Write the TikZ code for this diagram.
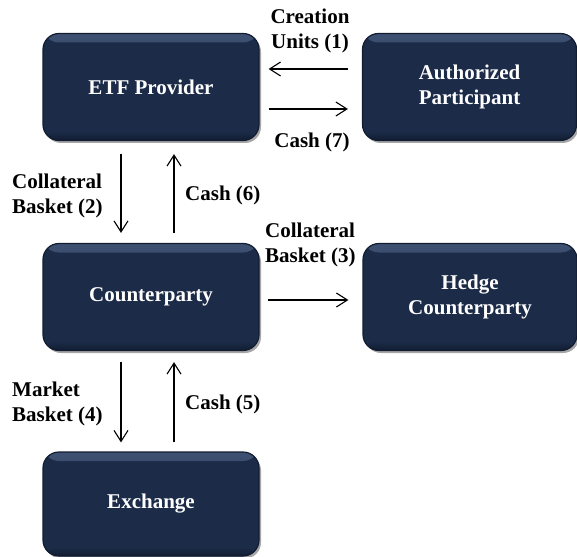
\documentclass[tikz,border=0pt]{standalone}
\usepackage{fontspec}
\setmainfont{Liberation Serif}
\usetikzlibrary{arrows.meta,shadows}
\definecolor{navy}{HTML}{1B2B48}
\definecolor{navyhi}{HTML}{3E5172}
\definecolor{navylo}{HTML}{111C31}
\tikzset{
  party/.style={
    rounded corners=16pt, minimum width=216pt, minimum height=107pt,
    inner sep=0pt, align=center, text=white,
    font=\fontsize{21}{25}\selectfont\bfseries,
    fill=navy, draw=navylo, line width=1.2pt,
    drop shadow={shadow xshift=2pt, shadow yshift=-2.5pt, opacity=0.35, fill=black},
    path picture={
      \shade[top color=navyhi, bottom color=navy]
        (path picture bounding box.north west) rectangle
        ([yshift=-9pt]path picture bounding box.north east);
      \shade[top color=navy, bottom color=navylo]
        ([yshift=9pt]path picture bounding box.south west) rectangle
        (path picture bounding box.south east);
    }
  },
  flow/.style={-{Straight Barb[length=11pt,width=14pt,line width=1.1pt]}, line width=1.1pt, black},
  tag/.style={font=\fontsize{21}{25}\selectfont\bfseries, inner sep=0pt},
  tagl/.style={tag, anchor=west, align=left},
  tagc/.style={tag, align=center}
}
\begin{document}
\begin{tikzpicture}[x=1pt, y=-1pt]
\useasboundingbox (0,0) rectangle (577,556);

% parties
\node[party] (etf)   at (151,87)    {ETF Provider};
\node[party, minimum width=214pt] (ap) at (469.5,87) {Authorized\\Participant};
\node[party] (cp)    at (151,297)   {Counterparty};
\node[party, minimum width=214pt] (hedge) at (470,297) {Hedge\\Counterparty};
\node[party, minimum height=104pt] (ex) at (151,504) {Exchange};

% ETF provider <-> authorized participant
\draw[flow, shorten <=14pt, shorten >=9pt] ([yshift=18pt]ap.west) -- ([yshift=18pt]etf.east);
\draw[flow, shorten <=9pt, shorten >=14pt] ([yshift=-22pt]etf.east) -- ([yshift=-22pt]ap.west);
\node[tagc] (l1) at (310,31) {Creation\\Units (1)};
\node[tagc] (l7) at (312,142) {Cash (7)};

% ETF provider <-> counterparty
\draw[flow, shorten <=13pt, shorten >=10pt] ([xshift=-30pt]etf.south) -- ([xshift=-30pt]cp.north);
\draw[flow, shorten <=10pt, shorten >=13pt] ([xshift=23pt]cp.north) -- ([xshift=23pt]etf.south);
\node[tagl] (l2) at (12,196) {Collateral\\Basket (2)};
\node[tagl] (l6) at (185,195) {Cash (6)};

% counterparty -> hedge counterparty
\draw[flow, shorten <=8pt, shorten >=14pt] ([yshift=-3pt]cp.east) -- ([yshift=-3pt]hedge.west);
\node[tagl] (l3) at (265,245) {Collateral\\Basket (3)};

% counterparty <-> exchange
\draw[flow, shorten <=11pt, shorten >=9pt] ([xshift=-30pt]cp.south) -- ([xshift=-30pt]ex.north);
\draw[flow, shorten <=9pt, shorten >=11pt] ([xshift=23pt]ex.north) -- ([xshift=23pt]cp.south);
\node[tagl] (l4) at (12,404) {Market\\Basket (4)};
\node[tagl] (l5) at (185,404) {Cash (5)};
\end{tikzpicture}
\end{document}
